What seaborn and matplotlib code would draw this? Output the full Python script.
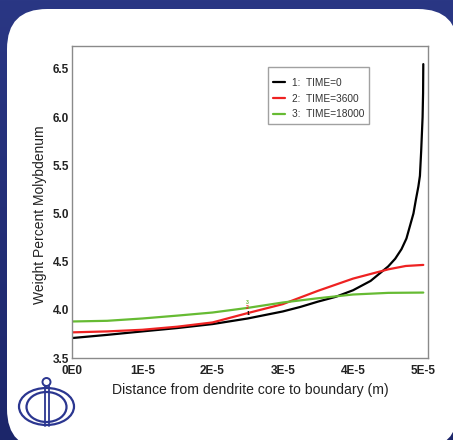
import numpy as np
import pandas as pd
import matplotlib
matplotlib.use("Agg")
import matplotlib.pyplot as plt
from matplotlib.patches import FancyBboxPatch, Ellipse, Circle
from matplotlib.colors import LinearSegmentedColormap
from matplotlib.lines import Line2D
import seaborn as sns

# ---- data ----
x_time0 = [0.0, 0.5e-5, 1.0e-5, 1.5e-5, 2.0e-5, 2.5e-5, 3.0e-5, 3.25e-5, 3.5e-5, 3.75e-5,
           4.0e-5, 4.25e-5, 4.5e-5, 4.6e-5, 4.69e-5, 4.76e-5, 4.81e-5, 4.86e-5, 4.895e-5,
           4.93e-5, 4.952e-5, 4.97e-5, 4.99e-5, 4.997e-5, 5.0e-5]
y_time0 = [3.707, 3.740, 3.776, 3.811, 3.852, 3.910, 3.983, 4.030, 4.085, 4.134,
           4.203, 4.300, 4.450, 4.530, 4.630, 4.740, 4.870, 5.000, 5.145,
           5.280, 5.390, 5.650, 6.000, 6.250, 6.550]

x_time3600 = [0.0, 0.5e-5, 1.0e-5, 1.5e-5, 2.0e-5, 2.5e-5, 3.0e-5, 3.5e-5, 4.0e-5,
              4.5e-5, 4.75e-5, 5.0e-5]
y_time3600 = [3.766, 3.776, 3.793, 3.825, 3.869, 3.966, 4.059, 4.197, 4.324,
              4.420, 4.455, 4.466]

x_time18000 = [0.0, 0.5e-5, 1.0e-5, 1.5e-5, 2.0e-5, 2.5e-5, 3.0e-5, 3.5e-5, 4.0e-5,
               4.5e-5, 5.0e-5]
y_time18000 = [3.879, 3.886, 3.910, 3.940, 3.972, 4.020, 4.076, 4.120, 4.159,
               4.176, 4.179]

series_names = ["1:  TIME=0", "2:  TIME=3600", "3:  TIME=18000"]
curve_tags = ["1", "2", "3"]
series_colors = ["#000000", "#ee2222", "#66bb33"]

x_ticks = [0.0, 1e-5, 2e-5, 3e-5, 4e-5, 5e-5]
x_ticklabels = ["0E0", "1E-5", "2E-5", "3E-5", "4E-5", "5E-5"]
y_ticks = [3.5, 4.0, 4.5, 5.0, 5.5, 6.0, 6.5]
y_ticklabels = ["3.5", "4.0", "4.5", "5.0", "5.5", "6.0", "6.5"]

x_title = "Distance from dendrite core to boundary (m)"
y_title = "Weight Percent Molybdenum"

tag_x = 2.5e-5

# ---- build long-form table ----
frames = []
for name, xs, ys in zip(series_names,
                        [x_time0, x_time3600, x_time18000],
                        [y_time0, y_time3600, y_time18000]):
    frames.append(pd.DataFrame({"x": xs, "y": ys, "series": name}))
df = pd.concat(frames, ignore_index=True)

sns.set_style("white")
plt.rcParams["font.family"] = ["Liberation Sans", "DejaVu Sans"]

W, H = 453, 440
fig = plt.figure(figsize=(W / 100, H / 100), dpi=100)

# ---- background (navy + white rounded panel + logo) ----
bg = fig.add_axes([0, 0, 1, 1], zorder=0)
bg.set_xlim(0, W)
bg.set_ylim(H, 0)
bg.axis("off")
grad = np.linspace(0, 1, 256).reshape(-1, 1)
cmap = LinearSegmentedColormap.from_list("navy", ["#2a3784", "#1c266a"])
bg.imshow(grad, extent=[0, W, H, 0], cmap=cmap, aspect="auto", zorder=0)
panel = FancyBboxPatch((7, 9), 451, 440, boxstyle="round,pad=0,rounding_size=40",
                       facecolor="white", edgecolor="none", zorder=1)
bg.add_patch(panel)
logo_c = "#2b3690"
bg.add_patch(Ellipse((46.5, 406.5), 55, 37, fill=False, lw=1.6, edgecolor=logo_c, zorder=2))
bg.add_patch(Ellipse((46.5, 407), 40, 30, fill=False, lw=1.6, edgecolor=logo_c, zorder=2))
bg.plot([44.5, 44.5], [386, 426], color=logo_c, lw=1.3, zorder=2)
bg.plot([48.5, 48.5], [386, 426], color=logo_c, lw=1.3, zorder=2)
bg.add_patch(Circle((46.5, 382), 4, fill=False, lw=1.4, edgecolor=logo_c, zorder=2))

# ---- chart ----
ax = fig.add_axes([72 / W, (H - 358) / H, 356 / W, 312 / H], zorder=2)
ax.set_facecolor("white")
sns.lineplot(data=df, x="x", y="y", hue="series", palette=series_colors,
             sort=False, estimator=None, linewidth=1.6, ax=ax, legend=False)

ax.set_xlim(0, 5.067e-5)
ax.set_ylim(3.5, 6.738)
ax.set_xticks(x_ticks)
ax.set_xticklabels(x_ticklabels)
ax.set_yticks(y_ticks)
ax.set_yticklabels(y_ticklabels)
for lab in ax.get_xticklabels() + ax.get_yticklabels():
    lab.set_fontweight("bold")
    lab.set_fontsize(8.5)
    lab.set_color("#222222")
ax.tick_params(axis="x", direction="out", length=3, width=0.8, color="#888888", pad=2.0)
ax.tick_params(axis="y", direction="out", length=1.5, width=0.8, color="#888888", pad=0.5)

for sp in ax.spines.values():
    sp.set_color("#8a8a8a")
    sp.set_linewidth(1.0)
    sp.set_visible(True)

ax.set_xlabel(x_title, fontsize=10.1, color="#222222")
ax.set_ylabel(y_title, fontsize=10.0, color="#222222")
ax.xaxis.set_label_coords(0.501, -0.08)
ax.yaxis.set_label_coords(-0.07, 0.46)

# curve tags
for tag, col, xs, ys in zip(curve_tags, series_colors,
                            [x_time0, x_time3600, x_time18000],
                            [y_time0, y_time3600, y_time18000]):
    yv = float(np.interp(tag_x, xs, ys))
    ax.annotate(tag, xy=(tag_x, yv), xytext=(0, 3.8), textcoords="offset points",
                ha="center", va="center", fontsize=3.8, color=col, fontweight="bold")

# legend
handles = [Line2D([], [], color=c, lw=1.6) for c in series_colors]
leg = ax.legend(handles, series_names, loc="upper left", bbox_to_anchor=(0.551, 0.933),
                fontsize=7.3, frameon=True, fancybox=False, handlelength=1.2,
                handletextpad=0.75, labelspacing=0.55, borderpad=0.45, borderaxespad=0,
                title=" ", title_fontsize=0.5)
leg.get_frame().set_edgecolor("#8a8a8a")
leg.get_frame().set_linewidth(1.0)
for t in leg.get_texts():
    t.set_color("#333333")

fig.savefig("out.png", dpi=100)
